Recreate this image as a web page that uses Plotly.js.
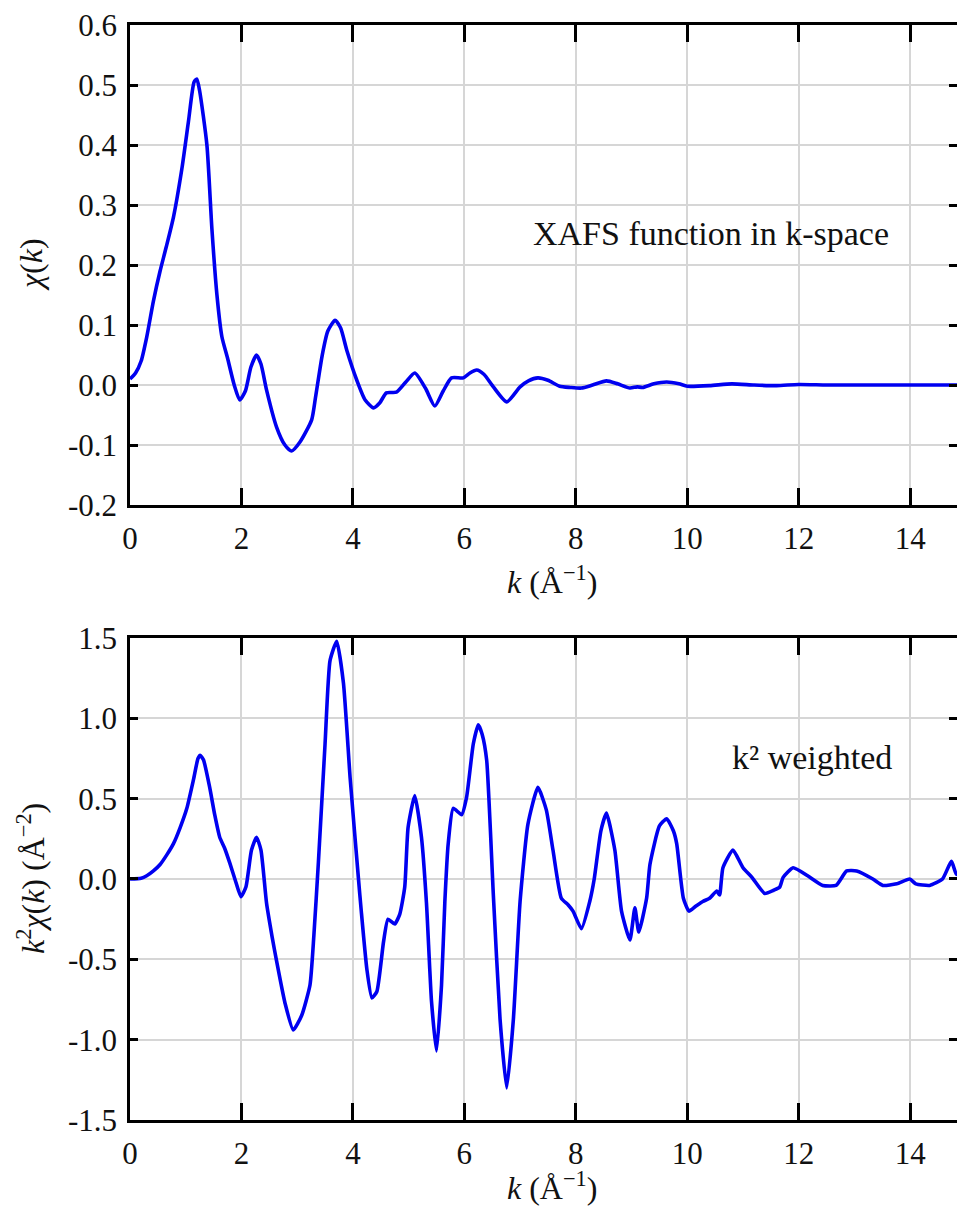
<!DOCTYPE html>
<html>
<head>
<meta charset="utf-8">
<script src="https://cdn.plot.ly/plotly-3.0.1.min.js"></script>
<style>
html, body { margin: 0; padding: 0; overflow: hidden; background: #fff; font-family: 'Liberation Serif', serif; }
#chart { width: 957px; height: 1207px; }
</style>
</head>
<body>
<div id="chart"></div>
<script>
// ---- data ----
const kTop = [0, 0.1, 0.2, 0.3, 0.42, 0.54, 0.65, 0.78, 0.93, 1.05, 1.15, 1.2, 1.25, 1.38, 1.47, 1.56, 1.65, 1.75, 1.87, 1.97,
  2.07, 2.17, 2.27, 2.35, 2.45, 2.63, 2.78, 2.9, 3.05, 3.26, 3.33, 3.45, 3.55, 3.68, 3.78, 3.89, 4.07, 4.22, 4.37, 4.48,
  4.6, 4.78, 4.95, 5.11, 5.3, 5.47, 5.62, 5.77, 5.98, 6.1, 6.22, 6.35, 6.52, 6.76, 7.0, 7.15, 7.32, 7.5, 7.71, 7.9,
  8.1, 8.3, 8.55, 8.75, 8.97, 9.1, 9.2, 9.4, 9.63, 9.85, 10.0, 10.4, 10.8, 11.2, 11.6, 12.0, 12.5, 13.0, 13.5, 14.0, 14.5, 15.0];
const chiTop = [0.01, 0.02, 0.04, 0.08, 0.14, 0.19, 0.23, 0.28, 0.36, 0.44, 0.505, 0.51, 0.49, 0.40, 0.26, 0.15, 0.08, 0.045, 0.0, -0.025,
  -0.01, 0.03, 0.05, 0.035, -0.008, -0.07, -0.10, -0.11, -0.095, -0.058, -0.02, 0.05, 0.09, 0.108, 0.095, 0.058, 0.008, -0.025, -0.038, -0.03,
  -0.013, -0.012, 0.005, 0.02, -0.005, -0.035, -0.01, 0.012, 0.012, 0.02, 0.025, 0.018, -0.003, -0.028, -0.003, 0.007, 0.012, 0.008, -0.002, -0.004,
  -0.005, 0.0, 0.007, 0.002, -0.005, -0.003, -0.004, 0.002, 0.005, 0.002, -0.002, -0.001, 0.002, 0.0, -0.001, 0.001, 0.0, 0.0, 0.0, 0.0, 0.0, 0.0];

const kBot = [0, 0.2, 0.3, 0.42, 0.54, 0.66, 0.78, 0.9, 1.02, 1.14, 1.22, 1.26, 1.32, 1.43, 1.52, 1.61, 1.7, 1.79, 1.9, 1.99,
  2.08, 2.18, 2.27, 2.35, 2.45, 2.55, 2.63, 2.78, 2.93, 3.08, 3.23, 3.3, 3.38, 3.5, 3.59, 3.71, 3.83, 3.95, 4.1, 4.15,
  4.25, 4.34, 4.43, 4.55, 4.63, 4.75, 4.84, 4.93, 4.99, 5.11, 5.23, 5.32, 5.41, 5.5, 5.59, 5.65, 5.71, 5.8, 5.95, 6.04,
  6.16, 6.25, 6.32, 6.4, 6.52, 6.64, 6.76, 6.88, 7.0, 7.14, 7.32, 7.47, 7.59, 7.74, 7.86, 7.95, 8.1, 8.25, 8.33, 8.45,
  8.55, 8.7, 8.82, 8.97, 9.06, 9.13, 9.27, 9.33, 9.5, 9.63, 9.75, 9.81, 9.93, 10.03, 10.15, 10.28, 10.4, 10.53, 10.58, 10.64,
  10.82, 11.0, 11.16, 11.39, 11.55, 11.66, 11.72, 11.9, 12.16, 12.43, 12.67, 12.86, 13.04, 13.33, 13.51, 13.76, 13.99, 14.1, 14.35, 14.58,
  14.74, 14.83, 15.0];
const k2chiBot = [0.0, 0.005, 0.02, 0.05, 0.09, 0.15, 0.22, 0.32, 0.44, 0.62, 0.75, 0.77, 0.74, 0.57, 0.40, 0.26, 0.19, 0.10, -0.02, -0.11,
  -0.05, 0.18, 0.26, 0.18, -0.15, -0.36, -0.51, -0.77, -0.94, -0.85, -0.66, -0.35, 0.10, 0.84, 1.36, 1.48, 1.22, 0.63, 0.0, -0.2,
  -0.56, -0.74, -0.70, -0.39, -0.25, -0.28, -0.22, -0.05, 0.32, 0.52, 0.26, -0.15, -0.76, -1.07, -0.66, -0.14, 0.22, 0.44, 0.40, 0.51,
  0.84, 0.96, 0.90, 0.74, -0.10, -0.87, -1.30, -0.87, -0.14, 0.34, 0.57, 0.43, 0.18, -0.12, -0.16, -0.20, -0.31, -0.14, 0.0, 0.30,
  0.41, 0.18, -0.20, -0.38, -0.18, -0.33, -0.12, 0.09, 0.33, 0.375, 0.30, 0.22, -0.12, -0.20, -0.17, -0.14, -0.12, -0.075, -0.10, 0.07,
  0.18, 0.07, 0.01, -0.09, -0.07, -0.05, 0.01, 0.07, 0.02, -0.04, -0.04, 0.05, 0.05, 0.0, -0.04, -0.03, 0.0, -0.03, -0.04, 0.0,
  0.11, 0.03, 0.02];

const xTickVals = [0, 2, 4, 6, 8, 10, 12, 14];
const xTickText = ["0", "2", "4", "6", "8", "10", "12", "14"];
const yTopTickVals = [-0.2, -0.1, 0.0, 0.1, 0.2, 0.3, 0.4, 0.5, 0.6];
const yTopTickText = ["-0.2", "-0.1", "0.0", "0.1", "0.2", "0.3", "0.4", "0.5", "0.6"];
const yBotTickVals = [-1.5, -1.0, -0.5, 0.0, 0.5, 1.0, 1.5];
const yBotTickText = ["-1.5", "-1.0", "-0.5", "0.0", "0.5", "1.0", "1.5"];

// ---- styling ----
const FONT = "Liberation Serif";
const LINE_COLOR = "#0000f0";

const traces = [
  { x: kTop, y: chiTop, xaxis: "x", yaxis: "y", type: "scatter", mode: "lines",
    line: { color: LINE_COLOR, width: 3.6, shape: "spline", smoothing: 0.6 }, hoverinfo: "skip" },
  { x: kBot, y: k2chiBot, xaxis: "x2", yaxis: "y2", type: "scatter", mode: "lines",
    line: { color: LINE_COLOR, width: 3.6, shape: "spline", smoothing: 0.5 }, hoverinfo: "skip" }
];

function xAxis(anchor) {
  return {
    anchor: anchor, domain: [0, 1], range: [0, 14.84],
    tickmode: "array", tickvals: xTickVals, ticktext: xTickText,
    ticks: "inside", ticklen: 17, tickwidth: 2.5, tickcolor: "#000",
    showline: true, linewidth: 2.5, linecolor: "#000", mirror: "ticks",
    showgrid: true, gridcolor: "#d6d6d6", gridwidth: 2, zeroline: false,
    tickfont: { family: FONT, size: 31, color: "#111" }, ticklabelstandoff: 4
  };
}
function yAxis(anchor, domain, range, vals, text) {
  return {
    anchor: anchor, domain: domain, range: range,
    tickmode: "array", tickvals: vals, ticktext: text,
    ticks: "inside", ticklen: 8, tickwidth: 2.5, tickcolor: "#000",
    showline: true, linewidth: 2.5, linecolor: "#000", mirror: "ticks",
    showgrid: true, gridcolor: "#d6d6d6", gridwidth: 2, zeroline: false,
    tickfont: { family: FONT, size: 31, color: "#111" }, ticklabelstandoff: 4
  };
}

const titleFont = { family: FONT, size: 32, color: "#111" };
const noteFont = { family: FONT, size: 34, color: "#111" };

const layout = {
  width: 957, height: 1207,
  margin: { l: 130, r: 0, t: 25, b: 87, pad: 0 },
  font: { family: FONT, size: 31, color: "#111" },
  paper_bgcolor: "#fff", plot_bgcolor: "#fff",
  showlegend: false,
  xaxis: xAxis("y"),
  yaxis: yAxis("x", [0.5616, 1], [-0.2, 0.6], yTopTickVals, yTopTickText),
  xaxis2: xAxis("y2"),
  yaxis2: yAxis("x2", [0, 0.4402], [-1.5, 1.5], yBotTickVals, yBotTickText),
  annotations: [
    { text: "<i>k</i> (Å<sup>−1</sup>)", xref: "paper", yref: "paper", x: 0.5107, y: 0.4932,
      xanchor: "center", yanchor: "middle", showarrow: false, font: titleFont },
    { text: "<i>k</i> (Å<sup>−1</sup>)", xref: "paper", yref: "paper", x: 0.5107, y: -0.0605,
      xanchor: "center", yanchor: "middle", showarrow: false, font: titleFont },
    { text: "<i>χ</i>(<i>k</i>)", xref: "paper", yref: "paper", x: -0.1197, y: 0.7808,
      xanchor: "center", yanchor: "middle", textangle: -90, showarrow: false, font: titleFont },
    { text: "<i>k</i><sup>2</sup><i>χ</i>(<i>k</i>) (Å<sup>−2</sup>)", xref: "paper", yref: "paper", x: -0.1197, y: 0.2201,
      xanchor: "center", yanchor: "middle", textangle: -90, showarrow: false, font: titleFont },
    { text: "XAFS function in k-space", xref: "x", yref: "y", x: 10.42, y: 0.253,
      xanchor: "center", yanchor: "middle", showarrow: false, font: noteFont },
    { text: "k² weighted", xref: "x2", yref: "y2", x: 12.23, y: 0.756,
      xanchor: "center", yanchor: "middle", showarrow: false, font: noteFont }
  ]
};

Plotly.newPlot("chart", traces, layout, { displayModeBar: false });
</script>
</body>
</html>
